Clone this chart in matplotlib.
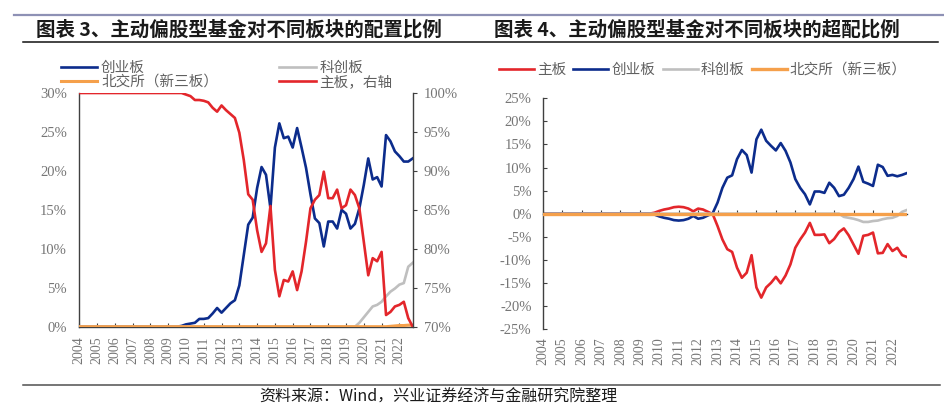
import numpy as np
import matplotlib
matplotlib.use("Agg")
import matplotlib.pyplot as plt
from matplotlib.lines import Line2D
from matplotlib.ticker import FuncFormatter

plt.rcParams['font.family'] = ['Liberation Serif', 'Noto Sans CJK SC', 'DejaVu Sans']

# ---------------- data ----------------
quarters = [f"{y}Q{q}" for y in range(2004, 2023) for q in range(1, 5)]  # 76 quarters
year_labels = ["2004", "2005", "2006", "2007", "2008", "2009", "2010", "2011", "2012",
               "2013", "2014", "2015", "2016", "2017", "2018", "2019", "2020", "2021", "2022"]

# Chart 3: allocation ratio (%)
alloc_chinext = [0, 0, 0, 0, 0, 0, 0, 0, 0, 0, 0, 0, 0, 0, 0, 0, 0, 0, 0, 0, 0, 0, 0,
                 0.1, 0.3, 0.4, 0.5, 1.0, 1.0, 1.1, 1.7, 2.4, 1.8, 2.4, 3.0, 3.4, 5.3, 9.2,
                 13.1, 14.0, 17.8, 20.5, 19.5, 15.2, 23.0, 26.1, 24.2, 24.4, 23.0, 25.5, 23.0,
                 20.4, 17.0, 13.9, 13.3, 10.3, 13.5, 13.5, 12.6, 15.0, 14.5, 12.6, 13.2, 15.2,
                 18.2, 21.6, 18.9, 19.2, 18.0, 24.6, 23.8, 22.5, 21.9, 21.2, 21.2, 21.6]
alloc_star = [0, 0, 0, 0, 0, 0, 0, 0, 0, 0, 0, 0, 0, 0, 0, 0, 0, 0, 0, 0, 0, 0, 0, 0, 0, 0,
              0, 0, 0, 0, 0, 0, 0, 0, 0, 0, 0, 0, 0, 0, 0, 0, 0, 0, 0, 0, 0, 0, 0, 0, 0, 0,
              0, 0, 0, 0, 0, 0, 0, 0, 0, 0, 0,
              0.5, 1.2, 1.9, 2.6, 2.8, 3.2, 3.9, 4.5, 4.9, 5.4, 5.6, 7.7, 8.2]
alloc_bse = [0, 0, 0, 0, 0, 0, 0, 0, 0, 0, 0, 0, 0, 0, 0, 0, 0, 0, 0, 0, 0, 0, 0, 0, 0, 0,
             0, 0, 0, 0, 0, 0, 0, 0, 0, 0, 0, 0, 0, 0, 0, 0, 0, 0, 0, 0, 0, 0, 0, 0, 0, 0,
             0, 0, 0, 0, 0, 0, 0, 0, 0, 0, 0, 0, 0, 0, 0, 0, 0, 0,
             0.05, 0.1, 0.15, 0.15, 0.2, 0.2]
alloc_main = [100, 100, 100, 100, 100, 100, 100, 100, 100, 100, 100, 100, 100, 100, 100,
              100, 100, 100, 100, 100, 100, 100, 100, 100,
              99.8, 99.6, 99.1, 99.1, 99.0, 98.8, 98.1, 97.6, 98.4, 97.8, 97.3, 96.8, 94.9,
              91.4, 87.0, 86.3, 82.4, 79.6, 80.7, 85.5, 77.3, 73.9, 76.0, 75.8, 77.1, 74.7,
              77.1, 80.9, 85.2, 86.3, 86.9, 89.9, 86.5, 86.5, 87.6, 85.2, 85.6, 87.6, 86.9,
              85.2, 80.9, 76.6, 78.8, 78.4, 79.6, 71.5, 71.9, 72.6, 72.8, 73.2, 71.1, 70.0]

# Chart 4: overweight ratio (%)
over_main = [0, 0, 0, 0, 0, 0, 0, 0, 0, 0, 0, 0, 0, 0, 0, 0, 0, 0, 0, 0, 0, 0, 0,
             0.2, 0.6, 0.9, 1.1, 1.4, 1.5, 1.4, 1.1, 0.5, 1.1, 0.9, 0.4, -0.1,
             -2.7, -5.6, -7.7, -8.3, -11.7, -13.9, -12.8, -9.0, -16.0, -18.2, -16.0, -15.0,
             -13.7, -15.1, -13.4, -11.0, -7.4, -5.6, -4.1, -2.0,
             -4.6, -4.6, -4.5, -6.4, -5.5, -4.0, -3.2, -4.7, -6.7, -8.7, -4.8, -4.6, -4.1,
             -8.6, -8.5, -6.6, -8.1, -7.4, -9.0, -9.4]
over_chinext = [0, 0, 0, 0, 0, 0, 0, 0, 0, 0, 0, 0, 0, 0, 0, 0, 0, 0, 0, 0, 0, 0, 0,
                -0.2, -0.6, -0.9, -1.1, -1.4, -1.5, -1.4, -1.1, -0.5, -1.1, -0.9, -0.4, 0.1,
                2.4, 5.6, 7.8, 8.3, 11.8, 13.8, 12.7, 8.9, 16.1, 18.2, 15.8, 14.7, 13.7, 15.3,
                13.6, 11.1, 7.5, 5.6, 4.2, 2.0,
                4.8, 4.8, 4.5, 6.7, 5.6, 3.8, 4.1, 5.6, 7.5, 10.2, 6.9, 6.5, 6.0, 10.6, 10.1,
                8.2, 8.4, 8.1, 8.4, 8.8]
over_star = [0, 0, 0, 0, 0, 0, 0, 0, 0, 0, 0, 0, 0, 0, 0, 0, 0, 0, 0, 0, 0, 0, 0, 0, 0, 0,
             0, 0, 0, 0, 0, 0, 0, 0, 0, 0, 0, 0, 0, 0, 0, 0, 0, 0, 0, 0, 0, 0, 0, 0, 0, 0,
             0, 0, 0, 0, 0, 0, 0, 0, 0, 0,
             -0.7, -0.9, -1.1, -1.4, -1.8, -1.8, -1.6, -1.5, -1.2, -1.0, -0.9, -0.5, 0.4, 0.8]
over_bse = [0, 0, 0, 0, 0, 0, 0, 0, 0, 0, 0, 0, 0, 0, 0, 0, 0, 0, 0, 0, 0, 0, 0, 0, 0, 0,
            0, 0, 0, 0, 0, 0, 0, 0, 0, 0, 0, 0, 0, 0, 0, 0, 0, 0, 0, 0, 0, 0, 0, 0, 0, 0,
            0, 0, 0, 0, 0, 0, 0, 0, 0, 0, 0, 0, 0, 0, 0, 0, 0, 0, 0, 0, 0, 0, 0, 0]

# ---------------- style ----------------
RED = "#E3262B"
BLUE = "#0C2C8C"
GRAY = "#BFBFBF"
ORANGE = "#F5A04B"
AXC = "#404040"
TICKC = "#767676"
LEGC = "#606060"
CJK = ['Noto Sans CJK SC', 'DejaVu Sans']
LW = 1.9

W, H = 945, 412
def fx(px):
    return px / W
def fy(py):
    return 1 - py / H

fig = plt.figure(figsize=(9.45, 4.12), dpi=100)

x = np.arange(len(quarters))
tick_pos = x[::4]
pct = FuncFormatter(lambda v, p: f"{v:.0f}%")

# ---------------- chart 3 ----------------
ax = fig.add_axes([fx(79.3), fy(326.7), fx(412.7) - fx(79.3), fy(93) - fy(326.7)])
ax2 = ax.twinx()
h_blue, = ax.plot(x, alloc_chinext, color=BLUE, lw=LW, label="创业板")
h_gray, = ax.plot(x, alloc_star, color=GRAY, lw=LW, label="科创板")
h_orange, = ax.plot(x, alloc_bse, color=ORANGE, lw=2.2, label="北交所（新三板）", zorder=3)
h_red, = ax2.plot(x, alloc_main, color=RED, lw=LW, label="主板，右轴")
ax.set_xlim(0, 75)
ax.set_ylim(0, 30)
ax2.set_ylim(70, 100)
ax.set_yticks(np.arange(0, 31, 5))
ax2.set_yticks(np.arange(70, 101, 5))
ax.yaxis.set_major_formatter(pct)
ax2.yaxis.set_major_formatter(pct)
ax.set_xticks(tick_pos)
ax.set_xticklabels(year_labels)
for s in ["top", "right"]:
    ax.spines[s].set_visible(False)
for s in ["top", "left", "bottom"]:
    ax2.spines[s].set_visible(False)
for s in ["left", "bottom"]:
    ax.spines[s].set_color(AXC)
    ax.spines[s].set_linewidth(1.0)
    ax.spines[s].set_zorder(1)
ax2.spines["right"].set_color(AXC)
ax2.spines["right"].set_linewidth(1.0)
ax.tick_params(axis="x", direction="in", length=3, color=AXC, labelrotation=90,
               pad=7, labelsize=10, labelcolor=TICKC)
ax.tick_params(axis="y", length=0, pad=9, labelsize=10.5, labelcolor=TICKC)
ax2.tick_params(axis="y", direction="out", length=3, color=AXC, pad=5,
                labelsize=10.5, labelcolor=TICKC)

fig.legend([h_blue, h_orange, h_gray, h_red],
           ["创业板", "北交所（新三板）", "科创板", "主板，右轴"],
           ncol=2, loc="upper left", bbox_to_anchor=(fx(61), fy(61)),
           frameon=False, handlelength=2.5, handletextpad=0.25, columnspacing=4.2,
           labelspacing=0.0, borderpad=0, borderaxespad=0,
           prop={"family": CJK, "size": 10.5}, labelcolor=LEGC)

# ---------------- chart 4 ----------------
axr = fig.add_axes([fx(542.7), fy(329), fx(907) - fx(542.7), fy(98.3) - fy(329)])
r1, = axr.plot(x, over_main, color=RED, lw=LW, label="主板")
r2, = axr.plot(x, over_chinext, color=BLUE, lw=LW, label="创业板")
r3, = axr.plot(x, over_star, color=GRAY, lw=LW, label="科创板")
r4, = axr.plot(x, over_bse, color=ORANGE, lw=2.4, label="北交所（新三板）", zorder=3)
axr.set_xlim(0, 75)
axr.set_ylim(-25, 25)
axr.set_yticks(np.arange(-25, 26, 5))
axr.yaxis.set_major_formatter(pct)
for s in ["top", "right"]:
    axr.spines[s].set_visible(False)
axr.spines["bottom"].set_position(("data", 0))
for s in ["left", "bottom"]:
    axr.spines[s].set_color(AXC)
    axr.spines[s].set_linewidth(1.0)
axr.spines["bottom"].set_zorder(1)
axr.set_xticks(tick_pos)
axr.tick_params(axis="x", direction="in", length=3, color=AXC, labelbottom=False)
axr.tick_params(axis="y", direction="in", length=3, color=AXC, pad=8,
                labelsize=10.5, labelcolor=TICKC)
sec = axr.secondary_xaxis(0)
sec.set_xticks(tick_pos)
sec.set_xticklabels(year_labels)
sec.tick_params(length=0, pad=6, labelrotation=90, labelsize=10, labelcolor=TICKC)
sec.spines["bottom"].set_visible(False)

fig.legend([r1, r2, r3, r4], ["主板", "创业板", "科创板", "北交所（新三板）"],
           ncol=4, loc="center left", bbox_to_anchor=(fx(499), fy(70)),
           frameon=False, handlelength=2.4, handletextpad=0.2, columnspacing=0.5,
           borderpad=0, borderaxespad=0,
           prop={"family": CJK, "size": 10.5}, labelcolor=LEGC)

# ---------------- titles, rules, source ----------------
fig.add_artist(Line2D([fx(14), fx(944)], [fy(14.5), fy(14.5)], color="#8E91B5", lw=1.6))
fig.add_artist(Line2D([fx(23), fx(938)], [fy(42.3), fy(42.3)], color="#111111", lw=1.1))
fig.add_artist(Line2D([fx(23), fx(940)], [fy(385), fy(385)], color="#505050", lw=1.1))
fig.text(fx(36), fy(30), "图表 3、主动偏股型基金对不同板块的配置比例", fontsize=14,
         fontweight="bold", family=CJK, va="center", ha="left", color="#1a1a1a")
fig.text(fx(494), fy(30), "图表 4、主动偏股型基金对不同板块的超配比例", fontsize=14,
         fontweight="bold", family=CJK, va="center", ha="left", color="#1a1a1a")
fig.text(fx(259), fy(397.5), "资料来源：Wind，兴业证券经济与金融研究院整理", fontsize=11.5,
         family=CJK, va="center", ha="left", color="#1a1a1a")

fig.savefig("out.png", dpi=100)
